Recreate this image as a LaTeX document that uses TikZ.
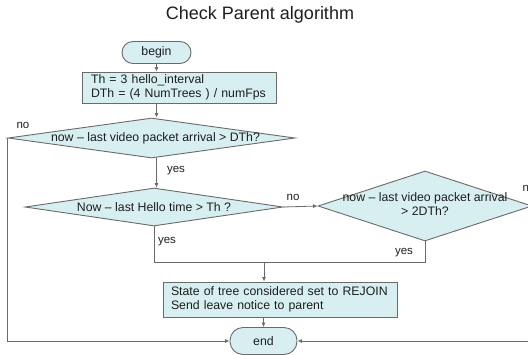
\documentclass[tikz,border=0pt]{standalone}
\usepackage{fontspec}
\setmainfont{Liberation Sans}
\usetikzlibrary{shapes.geometric,arrows.meta}
\definecolor{boxfill}{HTML}{D7EFF1}
\definecolor{edge}{HTML}{6A6A6A}
\definecolor{ink}{HTML}{1E1E1E}
\begin{document}
\begin{tikzpicture}[x=1pt,y=-1pt,
  font=\fontsize{12.3}{14}\selectfont, text=ink,
  flow/.style={draw=edge, line width=0.8pt},
  arr/.style={flow, -{Latex[length=4.5pt,width=4pt]}},
  term/.style={draw=edge, fill=boxfill, line width=0.9pt, inner sep=0pt},
  procbox/.style={draw=edge, fill=boxfill, line width=0.9pt, align=left, inner ysep=0pt},
  decision/.style={diamond, draw=edge, fill=boxfill, line width=0.9pt, inner sep=0pt},
  tag/.style={font=\fontsize{11.5}{12}\selectfont}]
\useasboundingbox (0,0) rectangle (528,354);

% title
\node[font=\fontsize{18}{20}\selectfont] (title) at (260,15) {Check Parent algorithm};

% terminators, process boxes and decisions
\node[term, minimum width=69pt, minimum height=22pt, rounded corners=11pt] (begin) at (156.5,52.5) {begin};
\node[procbox, text width=176pt, inner xsep=9pt, minimum height=31pt] (init) at (179,87.5)
  {Th = 3 hello\_interval\\DTh = (4 NumTrees ) / numFps};
\node[decision, minimum width=287pt, minimum height=40pt] (d1) at (151.5,138)
  {\makebox[0pt]{\hspace*{8pt}now – last video packet arrival > DTh?}};
\node[decision, minimum width=258pt, minimum height=38pt] (d2) at (154,207)
  {\makebox[0pt]{Now – last Hello time > Th ?}};
\node[decision, minimum width=214pt, minimum height=70pt] (d3) at (425,206)
  {\makebox[0pt]{\begin{tabular}{@{}c@{}}now – last video packet arrival\\> 2DTh?\end{tabular}}};
\node[procbox, text width=218pt, inner xsep=8pt, minimum height=35pt] (act) at (280,299.5)
  {State of tree considered set to REJOIN\\Send leave notice to parent};
\node[term, minimum width=67pt, minimum height=27pt, rounded corners=13pt] (end) at (263.5,341) {end};

% branch labels
\node[tag] (no1) at (23,125) {no};
\node[tag] (yes1) at (176,171) {yes};
\node[tag] (no2) at (293,197) {no};
\node[tag, anchor=west] (no3) at (519,188) {no};
\node[tag] (yes2) at (167,242) {yes};
\node[tag] (yes3) at (404,253) {yes};

% connectors
\coordinate (merge) at (264,262);
\draw[arr] (begin.south) -- (begin.south |- init.north);
\draw[arr] (begin.south |- init.south) -- (begin.south |- d1.north);
\draw[arr] (begin.south |- d1.south) -- (begin.south |- d2.north);
\draw[arr] (d2.east) -- (d3.west);
\draw[flow] (d2.south) -- (d2.south |- merge) -- (d3.south |- merge) -- (d3.south);
\draw[arr] (merge) -- (merge |- act.north);
\draw[arr] (end |- act.south) -- (end.north);
\draw[arr] (d1.west) -- (d1.west |- end) -- (end.west);
\draw[arr] (d3.east) -- (d3.east |- end) -- (end.east);
\end{tikzpicture}
\end{document}
